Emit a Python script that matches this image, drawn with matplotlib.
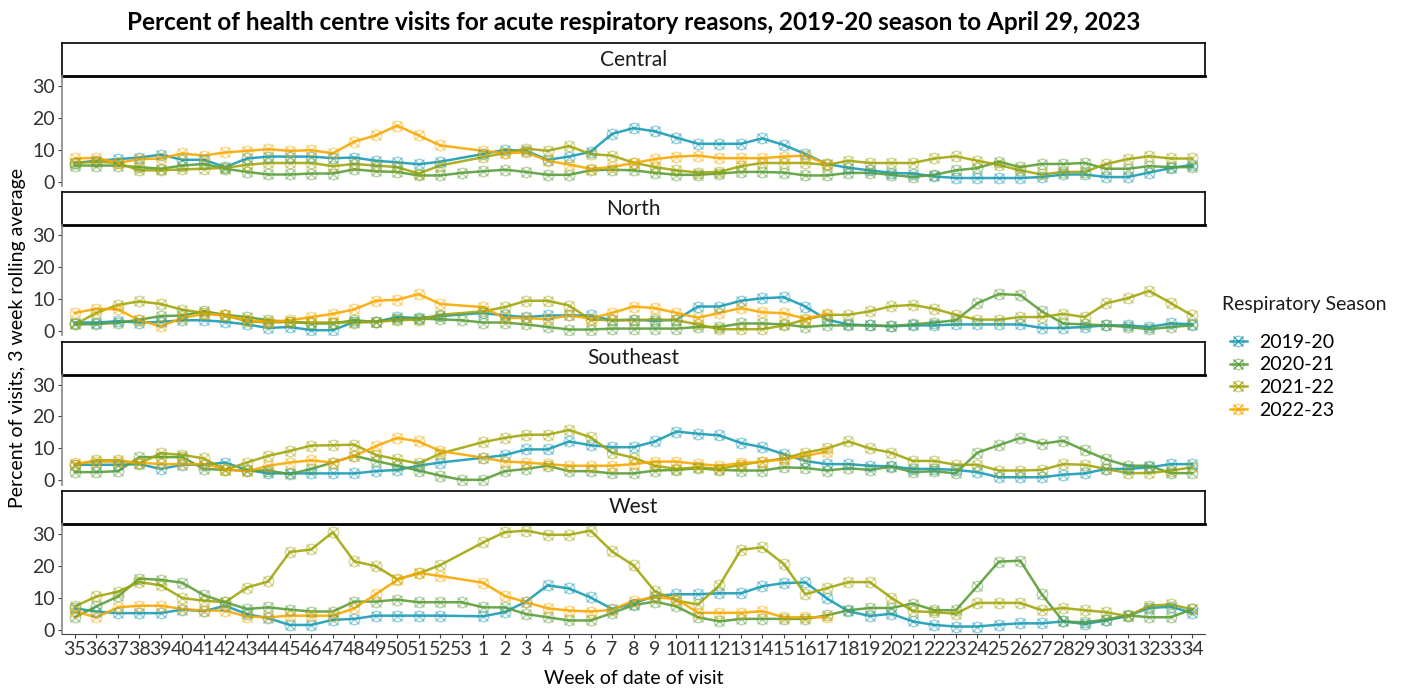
import matplotlib
matplotlib.use("Agg")
import matplotlib.pyplot as plt
from matplotlib.lines import Line2D
from matplotlib.legend_handler import HandlerTuple

plt.rcParams['font.family'] = ['Lato', 'DejaVu Sans']

# x categories: ISO weeks from 35 to 34 (week 53 only exists in 2020-21)
weeks = list(range(35, 54)) + list(range(1, 35))
week_labels = [str(w) for w in weeks]

seasons = ['2019-20', '2020-21', '2021-22', '2022-23']
colors = ['#1a9bb4', '#5b9e3a', '#a2a60c', '#f8a900']
regions = ['Central', 'North', 'Southeast', 'West']

N = None
tail = [N] * 17

central_1920 = [5.9, 6.6, 7.1, 7.6, 8.5, 6.9, 6.9, 4.6, 7.3, 7.9, 7.9, 7.9, 7.4, 7.6, 6.6, 6.1, 5.5, 6.3, N, 8.7,
                10.0, 9.7, 6.9, 7.9, 9.4, 15.0, 16.8, 15.8, 13.8, 11.9, 11.9, 11.9, 13.6, 11.5, 8.7, 5.6,
                4.4, 3.6, 2.8, 2.6, 1.7, 1.2, 1.2, 1.2, 1.2, 1.5, 2.3, 2.3, 1.5, 1.5, 2.9, 4.3, 5.3]
central_2021 = [5.1, 5.1, 5.1, 4.6, 4.1, 5.1, 5.6, 4.1, 3.1, 2.3, 2.3, 2.6, 2.6, 3.9, 3.3, 3.1, 2.0, 2.0, 2.8, 3.3,
                3.8, 3.1, 2.2, 2.2, 3.6, 3.8, 3.6, 2.8, 2.2, 2.2, 2.6, 3.1, 3.1, 2.9, 2.0, 2.0,
                2.8, 2.8, 2.2, 1.5, 2.2, 3.6, 4.3, 6.3, 4.6, 5.6, 5.6, 5.9, 4.1, 4.1, 4.9, 4.6, 4.6]
central_2122 = [5.9, 6.3, 5.9, 3.6, 3.6, 3.9, 4.1, 4.4, 5.3, 5.9, 5.9, 5.9, 4.9, 5.6, 5.1, 4.6, 2.6, 5.1, N, 7.7,
                9.0, 10.4, 9.7, 11.2, 8.7, 8.2, 6.0, 4.6, 3.6, 2.9, 3.1, 4.9, 5.9, 5.9, 5.9, 5.3,
                6.6, 5.9, 5.9, 5.9, 7.3, 8.0, 6.6, 5.3, 3.6, 2.3, 3.1, 3.1, 5.6, 7.1, 8.0, 7.3, 7.3]
central_2223 = [7.3, 7.5, 5.9, 7.1, 7.3, 8.9, 8.2, 9.2, 9.7, 10.2, 9.7, 9.9, 8.9, 12.6, 14.5, 17.6, 14.5, 11.4, N, 9.7,
                9.0, 9.2, 6.6, 5.4, 4.1, 4.6, 5.9, 7.1, 7.9, 8.2, 7.4, 7.4, 7.4, 7.9, 8.2, 5.6] + tail

north_1920 = [2.7, 2.7, 3.1, 2.7, 2.9, 3.4, 3.4, 2.9, 2.1, 1.0, 1.3, 0.3, 0.3, 2.9, 2.9, 4.4, 4.1, 4.7, N, 5.7,
              4.9, 4.4, 4.9, 4.9, 4.9, 3.4, 3.6, 3.2, 3.6, 7.7, 7.7, 9.5, 10.3, 10.6, 7.7, 3.6,
              2.1, 1.8, 1.5, 1.8, 1.8, 2.1, 2.1, 2.1, 2.1, 1.0, 1.0, 1.3, 1.8, 1.8, 1.3, 2.4, 2.2]
north_2021 = [2.1, 2.2, 2.6, 3.6, 4.7, 4.9, 6.2, 5.1, 4.4, 3.4, 2.9, 2.4, 2.4, 3.4, 2.9, 3.9, 3.9, 3.7, 3.4, 2.7,
              2.7, 2.1, 1.3, 0.5, 0.5, 0.8, 0.8, 0.8, 0.8, 1.3, 1.3, 2.4, 2.4, 2.1, 1.3, 1.8,
              1.8, 1.8, 1.6, 2.1, 2.7, 3.4, 8.7, 11.6, 11.3, 6.2, 2.4, 2.1, 1.8, 1.3, 0.6, 1.3, 1.8]
north_2122 = [2.1, 5.7, 8.2, 9.3, 8.5, 6.7, 5.7, 4.9, 3.1, 2.7, 2.9, 2.7, 2.7, 2.7, 2.9, 3.4, 3.6, 5.1, N, 6.2,
              7.5, 9.5, 9.5, 8.0, 3.6, 3.4, 3.4, 3.7, 3.4, 2.1, 0.6, 0.6, 0.6, 1.8, 3.6, 5.1,
              5.1, 6.2, 7.8, 8.2, 7.0, 5.1, 3.6, 3.6, 4.4, 4.4, 5.4, 4.4, 8.7, 10.3, 12.6, 8.8, 4.9]
north_2223 = [5.7, 7.0, 6.8, 3.4, 1.5, 4.1, 5.4, 4.9, 3.4, 2.9, 3.4, 4.4, 5.4, 6.8, 9.5, 9.8, 11.6, 8.5, N, 7.5,
              4.1, 4.1, 3.7, 4.9, 3.9, 5.7, 7.7, 7.2, 5.7, 4.2, 5.7, 7.2, 5.9, 5.6, 3.9, 5.4] + tail

southeast_1920 = [4.9, 4.9, 4.9, 5.1, 3.6, 4.9, 4.9, 5.6, 3.3, 2.2, 2.2, 2.2, 2.2, 2.2, 2.9, 3.3, 4.6, 5.6, N, 7.1,
                  7.9, 9.7, 9.7, 12.2, 11.0, 10.4, 10.4, 12.2, 15.3, 14.6, 14.1, 11.7, 10.4, 8.2, 6.1, 5.1,
                  5.1, 4.6, 4.4, 3.6, 3.6, 3.3, 2.6, 1.0, 1.0, 1.0, 1.8, 2.2, 3.6, 3.6, 4.1, 5.1, 5.1]
southeast_2021 = [2.6, 2.6, 2.9, 7.3, 7.3, 7.3, 3.6, 3.3, 3.1, 3.1, 2.0, 3.6, 5.6, 7.7, 6.1, 4.6, 3.1, 1.5, 0.2, 0.2,
                  2.9, 3.6, 4.6, 2.9, 2.9, 2.2, 2.2, 3.1, 3.3, 3.8, 3.3, 3.1, 3.1, 4.1, 3.9, 3.1,
                  3.8, 3.3, 4.3, 2.6, 2.9, 2.2, 8.7, 11.0, 13.3, 11.5, 12.4, 9.4, 6.6, 4.6, 4.6, 2.3, 2.3]
southeast_2122 = [4.9, 6.3, 6.3, 5.3, 8.5, 8.0, 6.9, 3.3, 5.6, 7.7, 9.2, 10.9, 11.0, 11.2, 8.0, 6.6, 5.3, 8.4, N, 12.0,
                  13.3, 14.3, 14.3, 15.8, 13.5, 8.7, 7.1, 4.6, 3.6, 4.1, 3.6, 4.9, 5.9, 6.9, 8.7, 10.0,
                  12.2, 10.0, 8.7, 6.1, 6.1, 4.9, 4.9, 3.1, 3.1, 3.3, 5.1, 4.9, 3.6, 2.3, 2.3, 3.1, 4.1]
southeast_2223 = [5.3, 5.9, 5.9, 5.6, 5.1, 5.1, 5.1, 3.6, 2.8, 4.6, 5.6, 6.3, 5.6, 7.7, 10.7, 13.3, 12.2, 9.2, N, 7.1,
                  5.9, 5.6, 5.1, 4.6, 4.6, 4.6, 5.1, 5.9, 5.9, 5.1, 4.6, 5.4, 5.9, 6.6, 7.7, 9.0] + tail

west_1920 = [6.7, 5.7, 5.2, 5.2, 5.2, 6.3, 5.8, 7.5, 4.9, 3.6, 1.5, 1.5, 3.1, 3.4, 4.4, 4.4, 4.4, 4.4, N, 4.2,
             5.5, 8.8, 13.9, 12.9, 10.1, 6.5, 8.2, 10.6, 11.1, 11.1, 11.4, 11.4, 13.6, 14.6, 14.8, 9.8,
             5.8, 4.3, 5.0, 2.6, 1.5, 1.0, 1.0, 1.6, 2.0, 2.0, 2.6, 1.8, 2.9, 4.3, 6.8, 7.2, 5.3]
west_2021 = [3.9, 7.3, 10.4, 16.0, 15.6, 14.7, 10.8, 8.6, 6.5, 7.0, 6.3, 5.7, 5.7, 8.8, 8.8, 9.4, 8.6, 8.6, 8.6, 7.0,
             7.0, 4.9, 3.9, 2.9, 2.9, 5.2, 7.7, 8.8, 7.3, 3.9, 2.6, 3.4, 3.4, 3.4, 3.4, 4.5,
             6.1, 6.8, 6.8, 8.2, 6.1, 6.1, 13.6, 21.3, 21.6, 11.1, 2.6, 2.3, 3.2, 4.5, 3.9, 3.9, 6.4]
west_2122 = [7.3, 10.4, 11.9, 14.9, 13.9, 9.9, 9.1, 8.6, 13.2, 15.1, 24.3, 25.1, 30.5, 21.4, 19.9, 15.8, 17.6, 20.2, N, 27.3,
             30.5, 31.0, 29.7, 29.7, 31.0, 24.5, 20.1, 12.0, 9.1, 7.9, 13.9, 25.0, 25.8, 20.5, 11.1, 13.0,
             14.9, 14.9, 10.0, 5.8, 5.5, 5.0, 8.4, 8.4, 8.4, 6.1, 6.8, 6.1, 5.5, 4.2, 7.5, 7.9, 6.4]
west_2223 = [5.7, 3.9, 7.0, 7.5, 7.5, 6.5, 6.0, 6.0, 4.1, 3.9, 4.4, 4.4, 4.4, 6.7, 11.1, 15.6, 17.8, 16.8, N, 14.7,
             10.6, 8.6, 6.7, 6.0, 5.7, 6.2, 9.1, 10.1, 9.6, 5.3, 5.3, 5.3, 5.8, 3.9, 3.9, 3.9] + tail

data = {
    'Central': [central_1920, central_2021, central_2122, central_2223],
    'North': [north_1920, north_2021, north_2122, north_2223],
    'Southeast': [southeast_1920, southeast_2021, southeast_2122, southeast_2223],
    'West': [west_1920, west_2021, west_2122, west_2223],
}

W, H = 1409, 689
fig = plt.figure(figsize=(W / 100, H / 100), dpi=100)


def rect(x0, y0, x1, y1):
    return [x0 / W, 1 - y1 / H, (x1 - x0) / W, (y1 - y0) / H]


left, right = 62, 1205
step = 149.3
for k, region in enumerate(regions):
    top = 43 + step * k
    # strip
    sax = fig.add_axes(rect(left, top, right, top + 33))
    sax.set_xticks([])
    sax.set_yticks([])
    for s in sax.spines.values():
        s.set_linewidth(1.2)
        s.set_color('black')
    sax.spines['bottom'].set_linewidth(2)
    sax.text(0.5, 0.5, region, ha='center', va='center', fontsize=15, color='#1a1a1a',
             transform=sax.transAxes)

    ax = fig.add_axes(rect(left, top + 33, right, top + 143))
    for j, season in enumerate(seasons):
        vals = data[region][j]
        xs = [i for i, v in enumerate(vals) if v is not None]
        ys = [v for v in vals if v is not None]
        ax.plot(xs, ys, color=colors[j], lw=1.8, alpha=0.9, zorder=2)
    for j, season in enumerate(seasons):
        vals = data[region][j]
        xs = [i for i, v in enumerate(vals) if v is not None]
        ys = [v for v in vals if v is not None]
        ax.plot(xs, ys, ls='none', marker='o', mfc='none', mec=colors[j], ms=7.5, mew=1, alpha=0.45, zorder=3)
        ax.plot(xs, ys, ls='none', marker='x', mec=colors[j], ms=7.5, mew=1, alpha=0.45, zorder=3)

    ax.set_xlim(-0.6, len(weeks) - 0.4)
    ax.set_ylim(-1.3, 33.1)
    ax.set_yticks([0, 10, 20, 30])
    ax.tick_params(axis='y', labelsize=14, colors='#444444', length=3, pad=2)
    ax.tick_params(axis='y', labelcolor='#333333')
    ax.spines['top'].set_visible(False)
    ax.spines['right'].set_visible(False)
    ax.spines['left'].set_color('#888888')
    ax.spines['left'].set_linewidth(1.2)
    ax.set_xticks(range(len(weeks)))
    if k == len(regions) - 1:
        ax.set_xticklabels(week_labels)
        ax.tick_params(axis='x', labelsize=14, colors='#444444', length=3, pad=2)
        ax.tick_params(axis='x', labelcolor='#333333')
        ax.spines['bottom'].set_color('#444444')
    else:
        ax.set_xticklabels([])
        ax.tick_params(axis='x', length=0)
        ax.spines['bottom'].set_visible(False)
    ax.patch.set_alpha(0)

fig.text(634 / W, 1 - 22 / H, 'Percent of health centre visits for acute respiratory reasons, 2019-20 season to April 29, 2023',
         ha='center', va='center', fontsize=17.5, fontweight='bold')
fig.text(634 / W, 1 - 678 / H, 'Week of date of visit', ha='center', va='center', fontsize=14)
fig.text(18 / W, 1 - 338 / H, 'Percent of visits, 3 week rolling average', ha='center', va='center',
         rotation=90, fontsize=14)

# legend
fig.text(1222 / W, 1 - 305 / H, 'Respiratory Season', ha='left', va='center', fontsize=14, color='#1a1a1a')
handles = []
for c in colors:
    h1 = Line2D([], [], ls='none', marker='o', mfc='none', mec=c, ms=7.5, alpha=0.5)
    h2 = Line2D([], [], color=c, lw=1.8, marker='x', mec=c, ms=7.5, alpha=0.9)
    handles.append((h2, h1))
fig.legend(handles, seasons, loc='upper left',
           bbox_to_anchor=(1212 / W, 1 - 316 / H), frameon=False, fontsize=14,
           handlelength=0.9, handletextpad=0.6, labelspacing=0.3,
           handler_map={tuple: HandlerTuple(ndivide=1)})

fig.savefig('out.png', dpi=100)
